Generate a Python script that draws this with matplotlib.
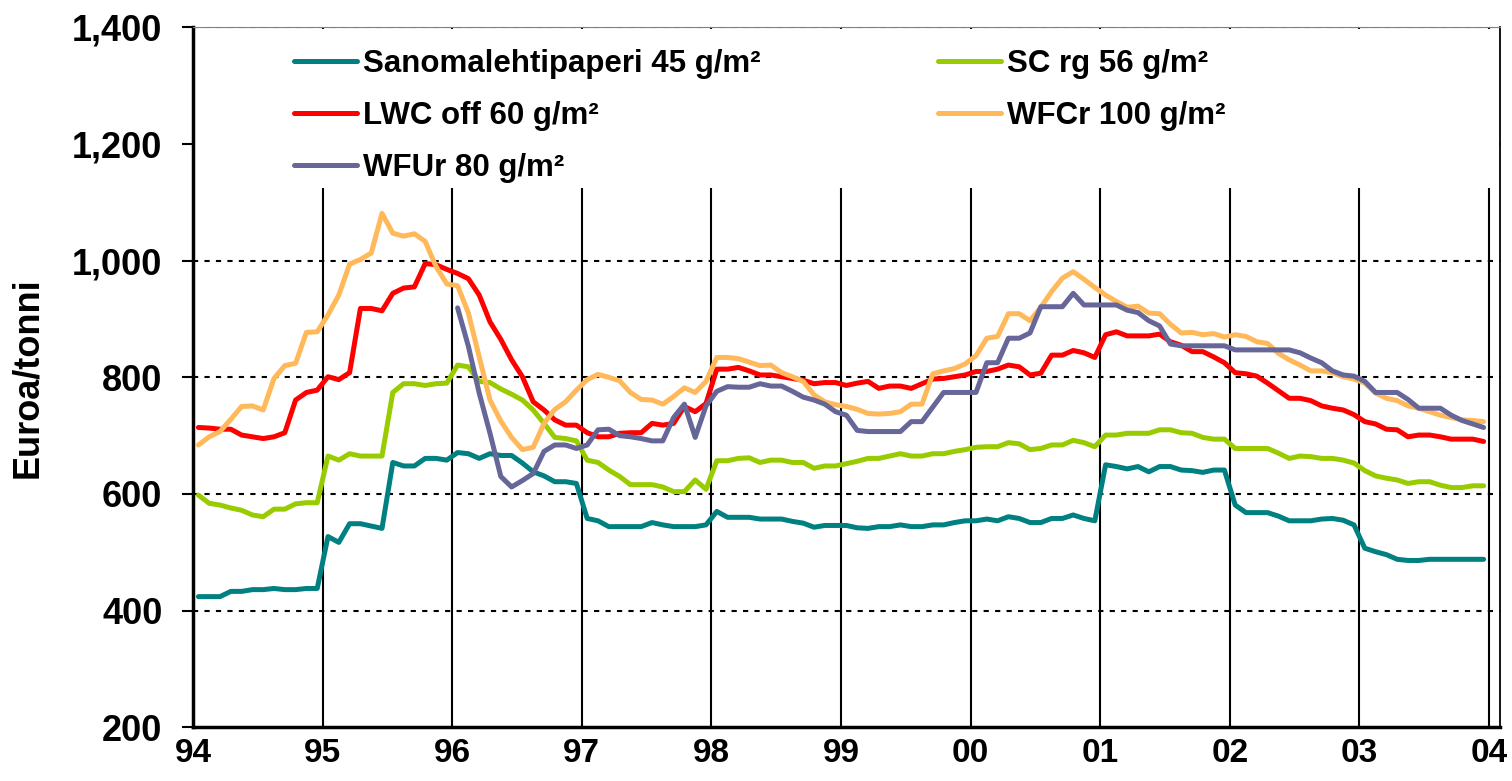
import numpy as np
import matplotlib
matplotlib.use("Agg")
import matplotlib.pyplot as plt
from matplotlib.patches import Rectangle
from matplotlib.ticker import FuncFormatter

plt.rcParams['font.family'] = ['Liberation Sans', 'DejaVu Sans']
plt.rcParams['font.weight'] = 'bold'

# Monthly prices, Jan 1994 .. Dec 2003 (EUR / tonne)
sanomalehti = [424, 424, 424, 433, 433, 436, 436, 438, 436, 436, 438, 438,
               527, 517, 549, 549, 545, 541, 654, 648, 648, 661, 661, 658,
               671, 669, 661, 669, 666, 666, 653, 638, 631, 621, 621, 618,
               558, 554, 544, 544, 544, 544, 551, 547, 544, 544, 544, 547,
               570, 560, 560, 560, 557, 557, 557, 553, 550, 543, 546, 546,
               546, 542, 541, 544, 544, 547, 544, 544, 547, 547, 551, 554,
               554, 557, 554, 561, 558, 551, 551, 558, 558, 564, 558, 554,
               650, 647, 643, 647, 638, 647, 647, 641, 640, 637, 641, 641,
               581, 568, 568, 568, 562, 554, 554, 554, 557, 558, 555, 547,
               507, 501, 496, 488, 486, 486, 488, 488, 488, 488, 488, 488]

sc_rg = [598, 584, 581, 576, 572, 564, 561, 574, 574, 583, 585, 585,
         665, 658, 669, 665, 665, 665, 774, 789, 789, 786, 789, 790,
         821, 818, 793, 791, 780, 771, 761, 744, 721, 697, 695, 691,
         658, 654, 641, 630, 616, 616, 616, 612, 604, 604, 624, 608,
         657, 657, 661, 662, 654, 658, 658, 654, 654, 644, 648, 648,
         652, 656, 661, 661, 665, 669, 665, 665, 669, 669, 673, 676,
         680, 681, 681, 688, 686, 676, 678, 684, 684, 692, 688, 681,
         701, 701, 704, 704, 704, 710, 710, 705, 704, 697, 694, 694,
         678, 678, 678, 678, 670, 661, 665, 664, 661, 661, 658, 653,
         640, 631, 627, 624, 618, 621, 621, 615, 611, 611, 614, 614]

lwc_off = [714, 713, 711, 711, 701, 698, 695, 698, 705, 761, 774, 778,
           801, 796, 808, 918, 918, 914, 944, 953, 955, 995, 993, 985,
           978, 969, 941, 895, 865, 830, 801, 758, 744, 727, 718, 718,
           705, 698, 698, 704, 705, 705, 721, 718, 721, 750, 741, 755,
           814, 814, 817, 811, 804, 804, 801, 798, 795, 789, 791, 791,
           786, 790, 793, 781, 785, 785, 781, 789, 797, 798, 801, 804,
           810, 810, 814, 821, 818, 804, 807, 838, 838, 846, 842, 834,
           873, 878, 871, 871, 871, 874, 861, 855, 844, 844, 835, 825,
           808, 806, 802, 790, 777, 764, 764, 760, 751, 747, 744, 736,
           724, 720, 711, 710, 698, 701, 701, 698, 694, 694, 694, 690]

wfcr = [684, 698, 707, 728, 750, 751, 744, 798, 820, 824, 877, 878,
        907, 941, 994, 1002, 1013, 1081, 1047, 1042, 1046, 1033, 990, 960,
        957, 910, 835, 761, 725, 697, 676, 680, 721, 745, 758, 778,
        796, 805, 800, 794, 774, 762, 761, 754, 767, 782, 774, 793,
        834, 834, 832, 826, 820, 821, 808, 801, 793, 770, 758, 753,
        750, 745, 738, 737, 738, 741, 754, 754, 806, 811, 815, 823,
        837, 867, 870, 909, 909, 897, 920, 947, 970, 981, 968, 954,
        941, 930, 920, 922, 910, 909, 891, 876, 877, 873, 875, 869,
        873, 870, 861, 858, 841, 830, 821, 811, 811, 808, 801, 797,
        790, 773, 764, 760, 751, 747, 741, 735, 731, 727, 726, 724]

# WFUr is quoted from January 1996 onwards
wfur = [np.nan] * 24 + [
        919, 853, 773, 704, 630, 612, 623, 635, 673, 684, 684, 678,
        684, 710, 711, 700, 698, 695, 691, 691, 731, 754, 697, 751,
        776, 784, 783, 783, 789, 785, 785, 776, 766, 761, 754, 741,
        735, 709, 707, 707, 707, 707, 724, 724, 749, 774, 774, 774,
        774, 825, 825, 867, 867, 876, 921, 921, 921, 944, 924, 924,
        924, 924, 915, 911, 897, 888, 857, 854, 854, 854, 854, 854,
        847, 847, 847, 847, 847, 847, 842, 833, 825, 811, 804, 802,
        793, 774, 774, 774, 762, 747, 747, 747, 735, 726, 720, 714]

year_ticks = list(range(94, 105))
year_labels = ['94', '95', '96', '97', '98', '99', '00', '01', '02', '03', '04']
y_ticks = [200, 400, 600, 800, 1000, 1200, 1400]

series = [
    ("Sanomalehtipaperi 45 g/m²", sanomalehti, "#008080"),
    ("SC rg 56 g/m²", sc_rg, "#99CC00"),
    ("LWC off 60 g/m²", lwc_off, "#FF0000"),
    ("WFCr 100 g/m²", wfcr, "#FFB95A"),
    ("WFUr 80 g/m²", wfur, "#666699"),
]

months = 94 + (np.arange(120) + 0.5) / 12.0

fig = plt.figure(figsize=(15.12, 7.81), dpi=100)
ax = fig.add_axes([193 / 1512, (781 - 727.3) / 781, 1307 / 1512, 700 / 781])

ax.set_xlim(94, 94 + 1307 / 129.6)
ax.set_ylim(200, 1400)

# dotted horizontal grid and solid year separators
for v in y_ticks[1:]:
    ax.axhline(v, color='black', lw=1.5, ls=(0, (2.5, 3)), zorder=1)
for yr in year_ticks[1:]:
    ax.axvline(yr, color='black', lw=1.5, zorder=1)

handles = {}
for name, vals, col in series:
    ln, = ax.plot(months, vals, color=col, lw=3.6, solid_joinstyle='round',
                  solid_capstyle='round', zorder=3, label=name)
    handles[name] = ln

# white panel behind the legend
ax.add_patch(Rectangle((2 / 1307, (727.3 - 188) / 700), (1493 - 195) / 1307,
                       (188 - 29) / 700, transform=ax.transAxes,
                       facecolor='white', edgecolor='none', zorder=2))

leg_kw = dict(frameon=False, handlelength=2.0, handletextpad=0.2,
              labelspacing=0.7, borderpad=0, borderaxespad=0, loc='upper left',
              prop={'weight': 'bold', 'size': 22.5})
col1 = [handles["Sanomalehtipaperi 45 g/m²"], handles["LWC off 60 g/m²"], handles["WFUr 80 g/m²"]]
col2 = [handles["SC rg 56 g/m²"], handles["WFCr 100 g/m²"]]
leg1 = ax.legend(col1, [h.get_label() for h in col1],
                 bbox_to_anchor=((294 - 193) / 1307, (727.3 - 49) / 700), **leg_kw)
leg1.set_zorder(5)
ax.add_artist(leg1)
leg2 = ax.legend(col2, [h.get_label() for h in col2],
                 bbox_to_anchor=((938 - 193) / 1307, (727.3 - 49) / 700), **leg_kw)
leg2.set_zorder(5)

ax.set_xticks(year_ticks)
ax.set_xticklabels(year_labels)
ax.set_yticks(y_ticks)
ax.yaxis.set_major_formatter(FuncFormatter(lambda v, p: f"{v:,.0f}"))
ax.tick_params(axis='x', length=0, pad=8, labelsize=24)
ax.tick_params(axis='y', direction='out', length=8, width=1.5, pad=14, labelsize=26)
for lab in ax.get_xticklabels() + ax.get_yticklabels():
    lab.set_fontweight('bold')

ax.set_ylabel("Euroa/tonni", fontsize=26, fontweight='bold')
ax.yaxis.set_label_coords((45 - 193) / 1307, 0.5)

ax.spines['left'].set_linewidth(2.5)
ax.spines['bottom'].set_linewidth(2.5)
ax.spines['right'].set_linewidth(1.3)
ax.spines['top'].set_linewidth(0.8)
ax.spines['top'].set_color('#808080')

fig.savefig("out.png", dpi=100)
